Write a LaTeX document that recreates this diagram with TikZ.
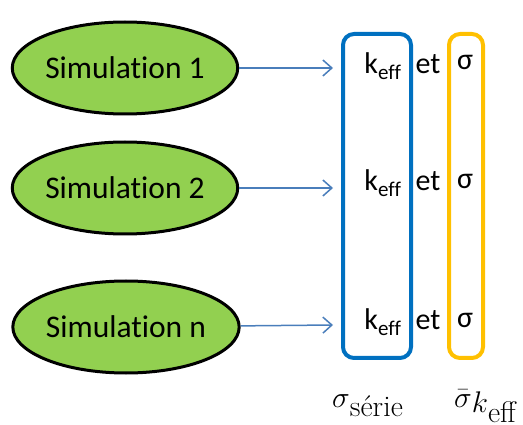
\documentclass[tikz,border=0pt]{standalone}
\usepackage{fontspec}
\setsansfont{Carlito}[Ligatures={NoCommon,NoRare}]
\usepackage{amsmath}
\usepackage{graphicx}
\usepackage{tikz}
\usetikzlibrary{positioning}
\usetikzlibrary{shapes.geometric,arrows.meta}

\definecolor{simgreen}{HTML}{92D050}
\definecolor{linkblue}{HTML}{4A7EBB}
\definecolor{serieblue}{HTML}{0070C0}
\definecolor{sigyellow}{HTML}{FFC000}

\tikzset{
	sim/.style={ellipse, draw=black, line width=3pt, fill=simgreen,
		minimum width=224pt, minimum height=92pt, inner sep=0pt,
		font=\sffamily\fontsize{31.5}{36}\selectfont},
	link/.style={draw=linkblue, line width=1.5pt,
		-{Straight Barb[length=9pt,width=16pt,line width=1.5pt]}},
	colbox/.style={rounded corners=11pt, line width=4pt, inner sep=0pt},
	cell/.style={font=\sffamily\fontsize{30}{34}\selectfont, inner sep=0pt},
	mlabel/.style={font=\fontsize{24.88}{30}\selectfont, inner sep=0pt, anchor=base west}
}

\begin{document}
\begin{tikzpicture}[x=1pt,y=-1pt]
	\useasboundingbox (0,0) rectangle (523,425);

	%Simulations
	\node[sim] (S1) at (125,68) {Simulation 1};
	\node[sim] (S2) at (125,188) {Simulation 2};
	\node[sim] (Sn) at (126,327) {Simulation n};

	%Columns
	\node[colbox, draw=serieblue, minimum width=68pt, minimum height=324pt] (serie) at (377,196) {};
	\node[colbox, draw=sigyellow, minimum width=34pt, minimum height=324pt] (sig) at (466,196) {};

	%Targets of the arrows
	\coordinate (t1) at (333,68);
	\coordinate (t2) at (333,188);
	\coordinate (tn) at (333,325);

	\draw[link] (S1) -- (t1);
	\draw[link] (S2) -- (t2);
	\draw[link] (Sn) -- (tn);

	%Rows
	\node[cell] (k1) at (383,66) {k\textsubscript{eff}};
	\node[cell] (e1) at (428,64) {et};
	\node[cell] (g1) at (465,62) {σ};

	\node[cell] (k2) at (383,183) {k\textsubscript{eff}};
	\node[cell] (e2) at (428,181) {et};
	\node[cell] (g2) at (465,181) {σ};

	\node[cell] (kn) at (383,322) {k\textsubscript{eff}};
	\node[cell] (en) at (428,320) {et};
	\node[cell] (gn) at (465,320) {σ};

	%Labels
	\node[mlabel] (lserie) at (332,407) {\scalebox{1.2}{$\sigma$\raisebox{-8.3pt}{série}}};
	\node[mlabel] (lsig) at (454,407) {\scalebox{1.2}{$\bar{\sigma}$\raisebox{-4.2pt}{$k$\raisebox{-8.3pt}{eff}}}};
\end{tikzpicture}
\end{document}
